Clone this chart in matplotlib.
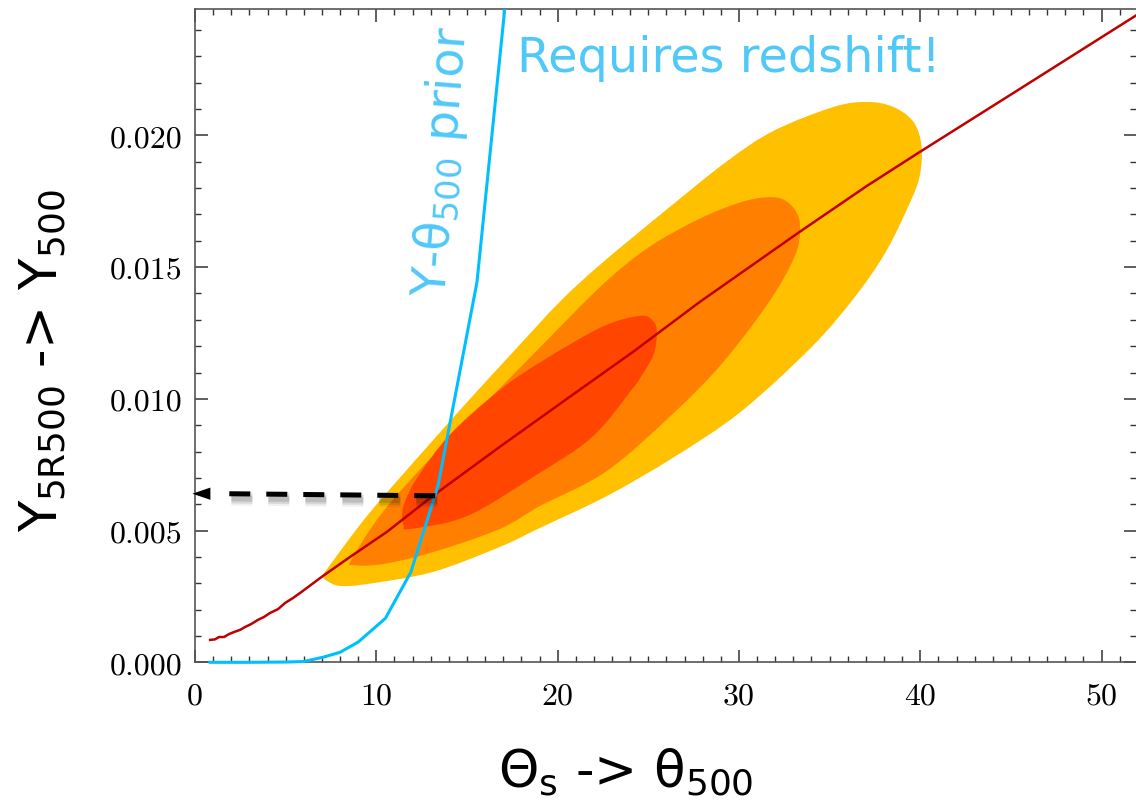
import numpy as np
import matplotlib
matplotlib.use("Agg")
import matplotlib.pyplot as plt
import matplotlib.patheffects as pe
from matplotlib.path import Path
from matplotlib.patches import PathPatch, Rectangle
from matplotlib.ticker import MultipleLocator, FormatStrFormatter

plt.rcParams['font.family'] = ['DejaVu Sans']
plt.rcParams['mathtext.fontset'] = 'dejavusans'

# Y - theta relation (red curve), theta in arcmin, Y in arcmin^2 (x1e-3)
rel_theta = [0.83, 1.10, 1.32, 1.60, 1.87, 2.15, 2.48, 2.76, 3.09, 3.47, 3.80, 4.13,
             4.58, 4.96, 5.40, 5.79, 7.06, 8.55, 10.58, 13.12, 16.81, 20.51, 24.15,
             27.84, 33.35, 37.05, 39.97, 45.48, 51.87]
rel_Y = [0.85, 0.87, 0.96, 0.96, 1.07, 1.15, 1.23, 1.34, 1.45, 1.61, 1.72, 1.87,
         2.02, 2.25, 2.44, 2.63, 3.28, 4.00, 4.95, 6.32, 8.18, 10.00, 11.78,
         13.68, 16.34, 18.08, 19.37, 21.76, 24.54]

# Y - theta500 prior (blue curve)
prior_theta = [0.83, 2.0, 3.0, 4.0, 5.0, 6.0, 7.1, 8.0, 9.0, 10.5, 11.9, 13.4, 15.55, 17.2]
prior_Y = [0.0, 0.0, 0.0, 0.005, 0.01, 0.03, 0.2, 0.38, 0.77, 1.67, 3.42, 6.70, 14.43, 25.6]

# posterior contours (outer -> inner)
c3_theta = [7.06, 7.28, 9.49, 12.25, 15.01, 17.77, 20.14, 22.35, 26.05, 29.36, 31.90,
            35.21, 37.09, 38.52, 39.63, 40.07, 39.97, 39.42, 38.09, 36.38, 34.01,
            30.10, 26.35, 22.71, 19.02, 16.81, 13.12, 9.48, 7.99, 7.28]
c3_Y = [3.28, 3.54, 5.56, 7.75, 9.88, 11.95, 13.70, 15.10, 17.21, 19.03, 20.17,
        21.08, 21.27, 21.08, 20.51, 19.60, 18.46, 17.43, 15.57, 13.86, 11.97,
        9.51, 7.76, 6.31, 5.10, 4.38, 3.43, 2.97, 2.90, 3.09]

c2_theta = [8.66, 10.36, 13.12, 15.88, 19.02, 22.50, 25.08, 27.84, 30.04, 31.50,
            32.50, 33.20, 33.37, 33.08, 31.70, 29.05, 26.35, 22.71, 19.02, 16.81,
            13.12, 10.36, 8.71]
c2_Y = [3.93, 5.71, 7.84, 9.75, 11.95, 14.35, 15.78, 16.84, 17.45, 17.65,
        17.55, 17.05, 16.37, 15.42, 13.72, 11.33, 9.43, 7.26, 5.93, 5.06,
        4.18, 3.73, 3.69]

c1_theta = [11.42, 11.55, 12.25, 14.07, 16.83, 19.30, 22.50, 24.53, 25.20, 25.47,
            25.30, 24.60, 24.15, 21.90, 18.80, 15.00, 11.85, 11.52]
c1_Y = [5.52, 6.05, 7.00, 8.65, 10.35, 11.50, 12.75, 13.15, 13.00, 12.60,
        11.70, 10.85, 10.40, 8.55, 7.10, 5.55, 5.06, 5.19]

# read-off of Y500 from the prior / relation crossing
read_theta = [13.25, 1.70]
read_Y = [6.32, 6.40]

m = 1e-3


def closed_curve(xs, ys):
    # closed Catmull-Rom outline through the contour points, as cubic Beziers
    P = np.column_stack([xs, np.array(ys) * m])
    n = len(P)
    verts = [P[0]]
    codes = [Path.MOVETO]
    for i in range(n):
        p0, p1, p2, p3 = P[i - 1], P[i], P[(i + 1) % n], P[(i + 2) % n]
        verts += [p1 + (p2 - p0) / 6.0, p2 - (p3 - p1) / 6.0, p2]
        codes += [Path.CURVE4] * 3
    verts.append(P[0])
    codes.append(Path.CLOSEPOLY)
    return Path(verts, codes)


fig = plt.figure(figsize=(11.36, 8.04), dpi=100)
ax = fig.add_axes([0.1717, 0.175, 0.8283, 0.8126])

for xs, ys, col in [(c3_theta, c3_Y, '#FFC000'),
                    (c2_theta, c2_Y, '#FF8000'),
                    (c1_theta, c1_Y, '#FF4500')]:
    ax.add_patch(PathPatch(closed_curve(xs, ys), facecolor=col, lw=0))

ax.plot(rel_theta, np.array(rel_Y) * m, color='#C00000', lw=1.8)
blue, = ax.plot(prior_theta, np.array(prior_Y) * m, color='#00BFFF', lw=2.2, zorder=4)
blue.set_clip_path(Rectangle((0, -0.02), 1, 1.02, transform=ax.transAxes))

shadow = [pe.SimpleLineShadow(offset=(1.5, -3.5), shadow_color='k', alpha=0.06, linewidth=10),
          pe.SimpleLineShadow(offset=(1.5, -3.5), shadow_color='k', alpha=0.10, linewidth=7),
          pe.SimpleLineShadow(offset=(1.5, -3.5), shadow_color='k', alpha=0.12, linewidth=4),
          pe.Normal()]
ax.plot(read_theta, np.array(read_Y) * m, color='black', lw=3.6,
        linestyle=(0, (4.2, 3.2)), path_effects=shadow, clip_on=False, zorder=5)
ax.annotate('', xy=(-0.15, read_Y[1] * m), xytext=(read_theta[1] - 0.7, read_Y[1] * m),
            arrowprops=dict(arrowstyle='-|>,head_length=0.65,head_width=0.22',
                            mutation_scale=20, color='black', lw=0,
                            shrinkA=0, shrinkB=0),
            annotation_clip=False, zorder=6)

ax.set_xlim(0, 51.9)
ax.set_ylim(0, 0.0248)

ax.xaxis.set_major_locator(MultipleLocator(10))
ax.xaxis.set_minor_locator(MultipleLocator(1))
ax.yaxis.set_major_locator(MultipleLocator(0.005))
ax.yaxis.set_minor_locator(MultipleLocator(0.001))
ax.yaxis.set_major_formatter(FormatStrFormatter('%.3f'))
ax.tick_params(which='both', direction='in', top=True, right=True, colors='#333333')
ax.tick_params(which='major', length=9, width=1.1)
ax.tick_params(which='minor', length=4.5, width=1.0)
ax.tick_params(axis='x', pad=14)
ax.tick_params(axis='y', pad=9)
for lab in ax.get_xticklabels() + ax.get_yticklabels():
    lab.set_fontfamily('cmr10')
    lab.set_fontsize(23)
    lab.set_color('black')
for sp in ax.spines.values():
    sp.set_color('#555555')
    sp.set_linewidth(1.2)
ax.spines['right'].set_visible(False)

fig.text(0.038, 0.551, r'Y$_{\mathrm{5R500}}$ -> Y$_{\mathrm{500}}$', rotation=90,
         ha='center', va='center', fontsize=37)
fig.text(0.551, 0.040, r'Θ$_{\mathrm{s}}$ -> θ$_{\mathrm{500}}$',
         ha='center', va='center', fontsize=37)

ax.text(17.75, 22.45 * m, 'Requires redshift!', color='#50C8F8', fontsize=34.5,
        ha='left', va='baseline')
ax.text(13.78, 13.87 * m, r'Y-θ$_{\mathrm{500}}$ prior', color='#50C8F8', fontsize=34.5,
        rotation=85.5, rotation_mode='anchor', ha='left', va='baseline')

fig.savefig('out.png', dpi=100)
